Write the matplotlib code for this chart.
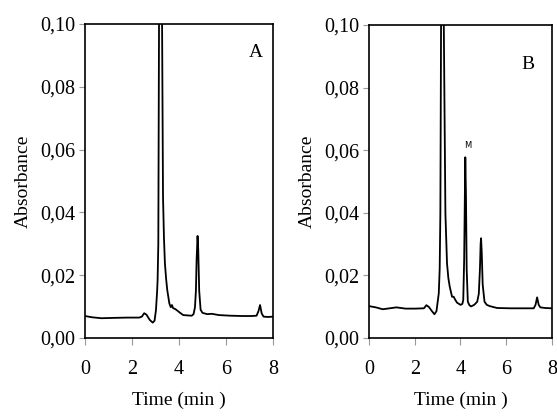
import numpy as np
import matplotlib.pyplot as plt

# Chromatogram A (time in min, absorbance)
time_a = [0.0, 0.3, 0.7, 1.2, 1.8, 2.3, 2.42, 2.52, 2.62, 2.75, 2.88, 2.96, 3.02, 3.07, 3.09,
          3.12, 3.15, 3.21, 3.28, 3.32, 3.36, 3.40, 3.45, 3.50, 3.59, 3.65, 3.70, 3.75, 3.82,
          3.90, 4.05, 4.18, 4.35, 4.54, 4.62, 4.68, 4.72, 4.75, 4.79, 4.82, 4.86, 4.92, 5.0,
          5.2, 5.4, 5.7, 6.2, 6.7, 7.1, 7.3, 7.38, 7.45, 7.52, 7.6, 7.8, 8.0]
abs_a = [0.0070, 0.0066, 0.0063, 0.0064, 0.0065, 0.0065, 0.0068, 0.0079, 0.0074, 0.0058, 0.0049,
         0.0055, 0.0089, 0.0150, 0.0185, 0.030, 0.100, 0.160, 0.100, 0.045, 0.032, 0.0239,
         0.019, 0.0153, 0.0110, 0.0098, 0.0105, 0.0095, 0.0093, 0.0089, 0.0080, 0.0073,
         0.0072, 0.0071, 0.0076, 0.0098, 0.015, 0.025, 0.0325, 0.028, 0.015, 0.0090, 0.0080,
         0.0076, 0.0077, 0.0073, 0.0071, 0.0070, 0.0070, 0.0071, 0.0085, 0.0105, 0.0078,
         0.0068, 0.0067, 0.0068]

# Chromatogram B
time_b = [0.0, 0.3, 0.6, 0.9, 1.2, 1.6, 2.0, 2.4, 2.51, 2.62, 2.75, 2.86, 2.95, 3.05, 3.09,
          3.12, 3.15, 3.20, 3.27, 3.34, 3.41, 3.47, 3.53, 3.63, 3.70, 3.78, 3.85, 4.00, 4.08,
          4.12, 4.16, 4.19, 4.21, 4.24, 4.27, 4.32, 4.39, 4.46, 4.60, 4.73, 4.80, 4.85, 4.88,
          4.90, 4.93, 4.97, 5.05, 5.15, 5.28, 5.6, 6.2, 6.8, 7.2, 7.28, 7.35, 7.42, 7.49, 7.7,
          8.0]
abs_b = [0.0101, 0.0097, 0.0091, 0.0094, 0.0097, 0.0093, 0.0093, 0.0094, 0.0104, 0.0098,
         0.0085, 0.0075, 0.0085, 0.0142, 0.022, 0.040, 0.100, 0.160, 0.100, 0.0398, 0.0238,
         0.019, 0.0163, 0.0131, 0.0131, 0.0120, 0.0112, 0.0105, 0.0108, 0.0120, 0.025,
         0.045, 0.0577, 0.045, 0.022, 0.0115, 0.0104, 0.0100, 0.0105, 0.0115, 0.014, 0.022,
         0.030, 0.0318, 0.027, 0.017, 0.0115, 0.0105, 0.0101, 0.0095, 0.0094, 0.0094, 0.0094,
         0.0105, 0.0129, 0.0105, 0.0097, 0.0095, 0.0094]

x_ticks = [0, 2, 4, 6, 8]
y_ticks = [0.00, 0.02, 0.04, 0.06, 0.08, 0.10]
y_labels = ['0,00', '0,02', '0,04', '0,06', '0,08', '0,10']

plt.rcParams['font.family'] = ['Liberation Serif', 'DejaVu Serif']

fig = plt.figure(figsize=(5.57, 4.16), dpi=100)
ax_a = fig.add_axes([0.1526, 0.1875, 0.3375, 0.7548])
ax_b = fig.add_axes([0.6625, 0.1882, 0.3285, 0.7518])

panels = [(ax_a, time_a, abs_a, 'A', (7.28, 0.091)),
          (ax_b, time_b, abs_b, 'B', (6.93, 0.0875))]

for ax, t, a, name, pos in panels:
    ax.plot(t, a, color='black', lw=1.3)
    ax.set_xlim(0, 8)
    ax.set_ylim(0, 0.10)
    ax.set_xticks(x_ticks)
    ax.set_yticks(y_ticks)
    ax.set_yticklabels(y_labels)
    ax.tick_params(axis='both', labelsize=14.5, color='#999999', width=0.8)
    ax.tick_params(axis='x', length=5, pad=11)
    ax.tick_params(axis='y', length=4, pad=3)
    for s in ax.spines.values():
        s.set_linewidth(1.2)
    ax.set_xlabel('Time (min )', fontsize=14, labelpad=9)
    ax.set_ylabel('Absorbance', fontsize=14, labelpad=6)
    ax.text(pos[0], pos[1], name, fontsize=14, ha='center', va='center')

ax_b.text(4.33, 0.0616, 'M', fontsize=6, ha='center', va='center', family='DejaVu Sans')

fig.savefig('out.png', dpi=100)
